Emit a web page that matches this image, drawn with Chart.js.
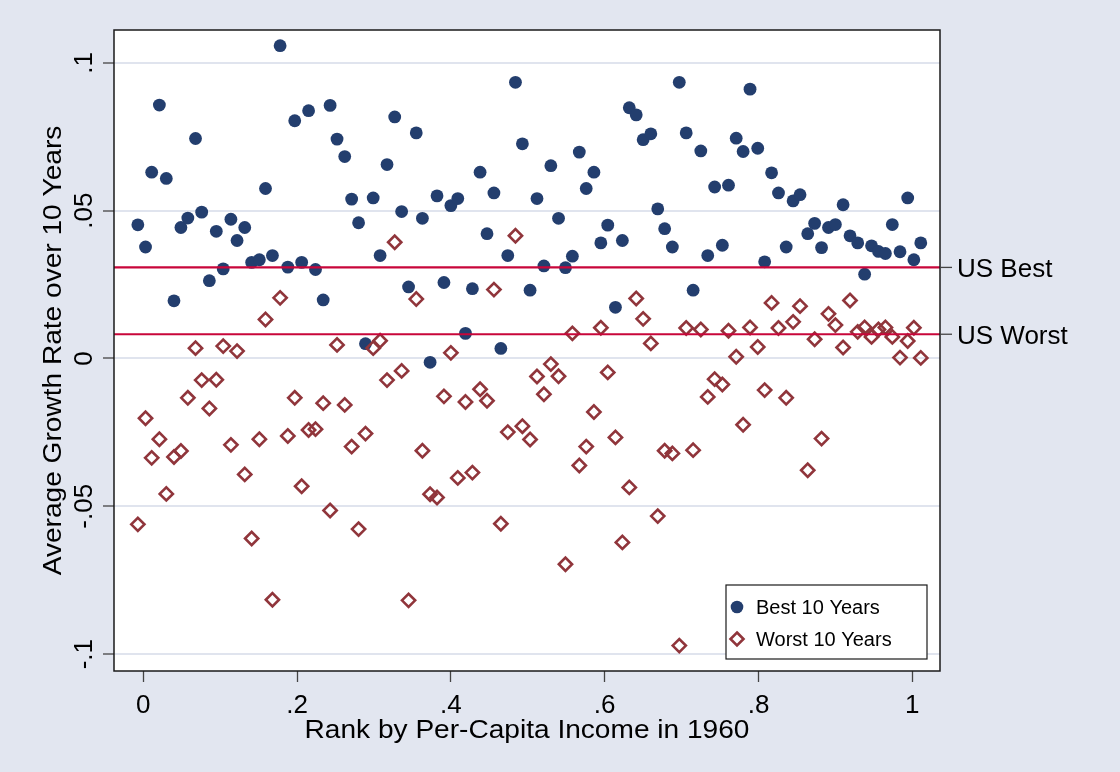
<!DOCTYPE html>
<html>
<head>
<meta charset="utf-8">
<script src="https://cdn.jsdelivr.net/npm/chart.js@4.4.1/dist/chart.umd.min.js"></script>
<style>
  html, body { margin: 0; padding: 0; background: #e2e6f0; }
  #chart { display: block; }
</style>
</head>
<body>
<canvas id="chart" width="1120" height="772"></canvas>
<script>
// rank by per-capita income in 1960
const rank = [
  -0.007, 0.003, 0.011, 0.021, 0.030, 0.040, 0.049, 0.058, 0.068, 0.076,
  0.086, 0.095, 0.104, 0.114, 0.122, 0.132, 0.141, 0.151, 0.159, 0.168,
  0.178, 0.188, 0.197, 0.206, 0.215, 0.224, 0.234, 0.243, 0.252, 0.262,
  0.271, 0.280, 0.289, 0.299, 0.308, 0.317, 0.327, 0.336, 0.345, 0.355,
  0.363, 0.373, 0.382, 0.391, 0.400, 0.409, 0.419, 0.428, 0.438, 0.447,
  0.456, 0.465, 0.474, 0.484, 0.493, 0.503, 0.512, 0.521, 0.530, 0.540,
  0.549, 0.558, 0.567, 0.576, 0.586, 0.595, 0.604, 0.614, 0.623, 0.632,
  0.641, 0.650, 0.660, 0.669, 0.678, 0.688, 0.697, 0.706, 0.715, 0.725,
  0.734, 0.743, 0.753, 0.761, 0.771, 0.780, 0.789, 0.799, 0.808, 0.817,
  0.826, 0.836, 0.845, 0.854, 0.864, 0.873, 0.882, 0.891, 0.900, 0.910,
  0.919, 0.929, 0.938, 0.947, 0.956, 0.965, 0.974, 0.984, 0.994, 1.002,
  1.011
];

// average growth rate, best 10 years
const best = [
  0.0452, 0.0377, 0.0630, 0.0857, 0.0609, 0.0195, 0.0443, 0.0475, 0.0744, 0.0495,
  0.0263, 0.0430, 0.0303, 0.0471, 0.0399, 0.0443, 0.0325, 0.0334, 0.0575, 0.0348,
  0.1058, 0.0309, 0.0804, 0.0325, 0.0838, 0.0301, 0.0198, 0.0856, 0.0742, 0.0683,
  0.0539, 0.0459, 0.0050, 0.0543, 0.0348, 0.0656, 0.0817, 0.0497, 0.0242, 0.0763,
  0.0474, -0.0013, 0.0550, 0.0257, 0.0517, 0.0541, 0.0085, 0.0236, 0.0630, 0.0422,
  0.0560, 0.0034, 0.0348, 0.0934, 0.0726, 0.0231, 0.0541, 0.0313, 0.0652, 0.0474,
  0.0307, 0.0346, 0.0698, 0.0575, 0.0630, 0.0391, 0.0451, 0.0173, 0.0399, 0.0848,
  0.0824, 0.0740, 0.0760, 0.0506, 0.0439, 0.0377, 0.0934, 0.0763, 0.0231, 0.0702,
  0.0348, 0.0580, 0.0383, 0.0586, 0.0745, 0.0700, 0.0911, 0.0711, 0.0327, 0.0628,
  0.0560, 0.0377, 0.0533, 0.0554, 0.0422, 0.0457, 0.0375, 0.0443, 0.0453, 0.0520,
  0.0415, 0.0391, 0.0285, 0.0381, 0.0362, 0.0355, 0.0453, 0.0361, 0.0543, 0.0334,
  0.0391
];

// average growth rate, worst 10 years
const worst = [
  -0.0561, -0.0202, -0.0336, -0.0273, -0.0458, -0.0333, -0.0313, -0.0133, 0.0035, -0.0073,
  -0.0169, -0.0072, 0.0042, -0.0292, 0.0025, -0.0392, -0.0609, -0.0273, 0.0132, -0.0816,
  0.0205, -0.0262, -0.0133, -0.0432, -0.0242, -0.0239, -0.0151, -0.0514, 0.0046, -0.0157,
  -0.0298, -0.0577, -0.0254, 0.0035, 0.0060, -0.0073, 0.0393, -0.0042, -0.0818, 0.0201,
  -0.0312, -0.0459, -0.0470, -0.0128, 0.0019, -0.0404, -0.0147, -0.0386, -0.0104, -0.0143,
  0.0233, -0.0559, -0.0249, 0.0415, -0.0229, -0.0274, -0.0061, -0.0121, -0.0019, -0.0060,
  -0.0696, 0.0085, -0.0362, -0.0298, -0.0181, 0.0104, -0.0047, -0.0267, -0.0622, -0.0436,
  0.0203, 0.0134, 0.0051, -0.0533, -0.0312, -0.0321, -0.0971, 0.0103, -0.0310, 0.0098,
  -0.0130, -0.0070, -0.0088, 0.0094, 0.0006, -0.0224, 0.0105, 0.0039, -0.0107, 0.0188,
  0.0103, -0.0133, 0.0124, 0.0177, -0.0378, 0.0065, -0.0271, 0.0151, 0.0113, 0.0037,
  0.0196, 0.0090, 0.0105, 0.0073, 0.0098, 0.0105, 0.0073, 0.0003, 0.0059, 0.0104,
  0.0002
];

const usBest = 0.0308;
const usWorst = 0.0082;

const xTicks = [0, 0.2, 0.4, 0.6, 0.8, 1];
const xTickLabels = ["0", ".2", ".4", ".6", ".8", "1"];
const yTicks = [-0.1, -0.05, 0, 0.05, 0.1];
const yTickLabels = ["-.1", "-.05", "0", ".05", ".1"];

const xMin = -0.038;
const xMax = 1.036;
const yMin = -0.1057;
const yMax = 0.1111;

const BG = "#e2e6f0";
const NAVY = "#233e6e";
const MAROON = "#90353b";
const RED = "#c8063a";
const FONT = "'Liberation Sans', Arial, sans-serif";

Chart.defaults.font.family = FONT;

function toPoints(ys) {
  return ys.map((y, i) => ({ x: rank[i], y: y }));
}

// background, hand drawn axis labels, frame, US labels and legend
const stataLook = {
  id: "stataLook",
  beforeDraw(chart) {
    const { ctx, chartArea: a } = chart;
    ctx.save();
    ctx.fillStyle = BG;
    ctx.fillRect(0, 0, chart.width, chart.height);
    ctx.fillStyle = "#ffffff";
    ctx.fillRect(a.left, a.top, a.right - a.left, a.bottom - a.top);
    ctx.restore();
  },
  afterDraw(chart) {
    const { ctx, chartArea: a } = chart;
    const xs = chart.scales.x;
    const ys = chart.scales.y;
    ctx.save();

    // frame
    ctx.strokeStyle = "#1a1a1a";
    ctx.lineWidth = 1.5;
    ctx.strokeRect(a.left, a.top, a.right - a.left, a.bottom - a.top);

    ctx.fillStyle = "#000000";
    ctx.font = "26px " + FONT;

    // x tick labels
    ctx.textAlign = "center";
    ctx.textBaseline = "alphabetic";
    xTicks.forEach((v, i) => {
      ctx.fillText(xTickLabels[i], xs.getPixelForValue(v), 713);
    });

    // x title (stata's text runs a little wider than the font)
    ctx.save();
    ctx.translate((a.left + a.right) / 2, 738);
    ctx.scale(1.08, 1);
    ctx.fillText("Rank by Per-Capita Income in 1960", 0, 0);
    ctx.restore();

    // y tick labels, rotated
    yTicks.forEach((v, i) => {
      ctx.save();
      ctx.translate(92, ys.getPixelForValue(v));
      ctx.rotate(-Math.PI / 2);
      ctx.fillText(yTickLabels[i], 0, 0);
      ctx.restore();
    });

    // y title
    ctx.save();
    ctx.translate(60.5, (a.top + a.bottom) / 2);
    ctx.rotate(-Math.PI / 2);
    ctx.scale(1.08, 1);
    ctx.fillText("Average Growth Rate over 10 Years", 0, 0);
    ctx.restore();

    // US marks on the right
    ctx.strokeStyle = "#444444";
    ctx.lineWidth = 1.3;
    ctx.textAlign = "left";
    [[usBest, "US Best"], [usWorst, "US Worst"]].forEach(([v, label]) => {
      const py = ys.getPixelForValue(v);
      ctx.beginPath();
      ctx.moveTo(a.right, py);
      ctx.lineTo(a.right + 12, py);
      ctx.stroke();
      ctx.fillText(label, a.right + 17, py + 9.5);
    });

    // legend
    const lw = 201, lh = 74;
    const lx = a.right - 13 - lw;
    const ly = a.bottom - 12 - lh;
    ctx.fillStyle = "#ffffff";
    ctx.fillRect(lx, ly, lw, lh);
    ctx.strokeStyle = "#1a1a1a";
    ctx.lineWidth = 1.2;
    ctx.strokeRect(lx, ly, lw, lh);

    ctx.fillStyle = NAVY;
    ctx.beginPath();
    ctx.arc(lx + 11, ly + 22, 6.3, 0, Math.PI * 2);
    ctx.fill();

    ctx.strokeStyle = MAROON;
    ctx.lineWidth = 2.6;
    const dx = lx + 11, dy = ly + 54, r = 6.5;
    ctx.beginPath();
    ctx.moveTo(dx, dy - r);
    ctx.lineTo(dx + r, dy);
    ctx.lineTo(dx, dy + r);
    ctx.lineTo(dx - r, dy);
    ctx.closePath();
    ctx.stroke();

    ctx.fillStyle = "#000000";
    ctx.font = "20px " + FONT;
    ctx.fillText("Best 10 Years", lx + 30, ly + 28.5);
    ctx.fillText("Worst 10 Years", lx + 30, ly + 60.5);

    ctx.restore();
  }
};

const ctx = document.getElementById("chart").getContext("2d");

new Chart(ctx, {
  type: "scatter",
  data: {
    datasets: [
      {
        label: "US Best",
        type: "line",
        data: [{ x: xMin, y: usBest }, { x: xMax, y: usBest }],
        borderColor: RED,
        borderWidth: 2.2,
        pointRadius: 0,
        fill: false,
        order: 0
      },
      {
        label: "US Worst",
        type: "line",
        data: [{ x: xMin, y: usWorst }, { x: xMax, y: usWorst }],
        borderColor: RED,
        borderWidth: 2.2,
        pointRadius: 0,
        fill: false,
        order: 0
      },
      {
        label: "Worst 10 Years",
        data: toPoints(worst),
        pointStyle: "rectRot",
        pointRadius: 6.6,
        borderColor: MAROON,
        borderWidth: 2.6,
        backgroundColor: "rgba(0,0,0,0)",
        order: 1
      },
      {
        label: "Best 10 Years",
        data: toPoints(best),
        pointStyle: "circle",
        pointRadius: 6.4,
        borderWidth: 0,
        backgroundColor: NAVY,
        order: 2
      }
    ]
  },
  options: {
    responsive: false,
    animation: false,
    events: [],
    layout: { padding: { top: 30, right: 180, left: 0, bottom: 0 } },
    plugins: {
      legend: { display: false },
      tooltip: { enabled: false }
    },
    scales: {
      x: {
        type: "linear",
        min: xMin,
        max: xMax,
        afterBuildTicks: (scale) => {
          scale.ticks = xTicks.map((v) => ({ value: v }));
        },
        afterFit: (scale) => {
          scale.height = 101;
        },
        ticks: { display: false },
        border: { display: false },
        grid: {
          drawOnChartArea: false,
          tickLength: 11,
          tickColor: "#444444",
          tickWidth: 1.3
        }
      },
      y: {
        type: "linear",
        min: yMin,
        max: yMax,
        afterBuildTicks: (scale) => {
          scale.ticks = yTicks.map((v) => ({ value: v }));
        },
        afterFit: (scale) => {
          scale.width = 114;
        },
        ticks: { display: false },
        border: { display: false },
        grid: {
          color: "#e0e4ee",
          lineWidth: 2,
          tickLength: 11,
          tickColor: "#444444",
          tickWidth: 1.3
        }
      }
    }
  },
  plugins: [stataLook]
});
</script>
</body>
</html>
